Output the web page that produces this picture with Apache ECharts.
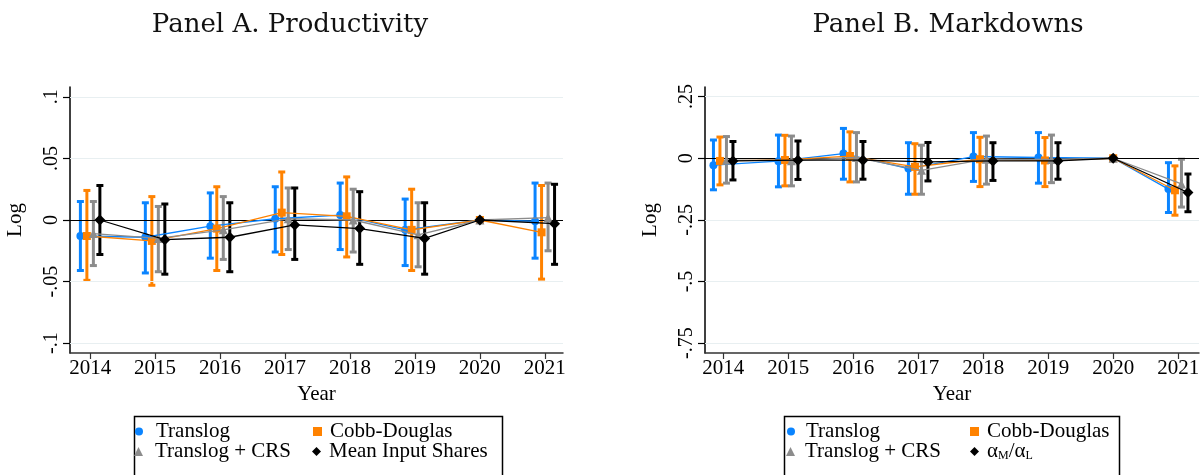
<!DOCTYPE html>
<html>
<head>
<meta charset="utf-8">
<script src="https://cdn.jsdelivr.net/npm/echarts@6/dist/echarts.min.js"></script>
<style>
  html, body { margin: 0; padding: 0; background: #fff; }
  #chart { width: 1204px; height: 475px; }
</style>
</head>
<body>
<div id="chart"></div>
<script>
// years and the base year (normalised to zero, no interval)
var years = [2014, 2015, 2016, 2017, 2018, 2019, 2020, 2021];
var baseYear = 2020;

// Panel A. Productivity  (point, lower, upper)
var prodTranslog    = [-0.013, -0.014, -0.005,  0.001,  0.004, -0.008, 0, -0.001];
var prodTranslogLo  = [-0.041, -0.043, -0.031, -0.026, -0.024, -0.037, null, -0.031];
var prodTranslogHi  = [ 0.015,  0.014,  0.022,  0.027,  0.030,  0.017, null,  0.030];
var prodCobb        = [-0.013, -0.017, -0.007,  0.006,  0.003, -0.008, 0, -0.010];
var prodCobbLo      = [-0.049, -0.053, -0.041, -0.028, -0.030, -0.041, null, -0.048];
var prodCobbHi      = [ 0.024,  0.019,  0.027,  0.039,  0.035,  0.025, null,  0.028];
var prodCrs         = [-0.011, -0.015, -0.008,  0.001,  0.000, -0.012, 0,  0.002];
var prodCrsLo       = [-0.037, -0.042, -0.032, -0.024, -0.026, -0.038, null, -0.025];
var prodCrsHi       = [ 0.015,  0.011,  0.019,  0.026,  0.025,  0.014, null,  0.030];
var prodShares      = [ 0.000, -0.016, -0.014, -0.004, -0.007, -0.015, 0, -0.003];
var prodSharesLo    = [-0.028, -0.044, -0.042, -0.032, -0.036, -0.044, null, -0.036];
var prodSharesHi    = [ 0.028,  0.013,  0.014,  0.026,  0.023,  0.014, null,  0.029];

// Panel B. Markdowns
var mdTranslog      = [-0.028, -0.012,  0.019, -0.042,  0.007,  0.003, 0, -0.125];
var mdTranslogLo    = [-0.128, -0.116, -0.085, -0.146, -0.094, -0.101, null, -0.220];
var mdTranslogHi    = [ 0.074,  0.094,  0.121,  0.063,  0.104,  0.104, null, -0.018];
var mdCobb          = [-0.011, -0.007,  0.009, -0.035, -0.004, -0.009, 0, -0.130];
var mdCobbLo        = [-0.108, -0.112, -0.096, -0.146, -0.115, -0.115, null, -0.231];
var mdCobbHi        = [ 0.086,  0.093,  0.107,  0.059,  0.085,  0.084, null, -0.031];
var mdCrs           = [-0.008, -0.010,  0.003, -0.049, -0.004, -0.005, 0, -0.104];
var mdCrsLo         = [-0.101, -0.112, -0.096, -0.146, -0.105, -0.099, null, -0.198];
var mdCrsHi         = [ 0.088,  0.090,  0.104,  0.053,  0.090,  0.094, null, -0.004];
var mdRatio         = [-0.011, -0.008, -0.008, -0.015, -0.011, -0.011, 0, -0.139];
var mdRatioLo       = [-0.088, -0.086, -0.085, -0.092, -0.090, -0.085, null, -0.217];
var mdRatioHi       = [ 0.068,  0.070,  0.068,  0.064,  0.063,  0.063, null, -0.064];

// y tick labels
var prodTicks = [-0.1, -0.05, 0, 0.05, 0.1];
var mdTicks = [-0.75, -0.5, -0.25, 0, 0.25];

var FONT = 'Liberation Serif';
var names = ['Translog', 'Cobb-Douglas', 'Translog + CRS'];
var colors = ['#0a84ff', '#ff8200', '#8c8c8c', '#000000'];
var symbols = ['circle', 'rect', 'triangle', 'diamond'];
var symSizes = [8, 8, 9, 11];
var shifts = [-0.15, -0.05, 0.05, 0.15];

function xPos(i, k) {
    return years[i] === baseYear ? years[i] : years[i] + shifts[k];
}

function stataLabel(v) {
    return String(v).replace('0.', '.');
}

var chart = echarts.init(document.getElementById('chart'));

var series = [];
var panels = [
    {est: [prodTranslog, prodCobb, prodCrs, prodShares],
     lo: [prodTranslogLo, prodCobbLo, prodCrsLo, prodSharesLo],
     hi: [prodTranslogHi, prodCobbHi, prodCrsHi, prodSharesHi],
     last: 'Mean Input Shares', ticks: prodTicks},
    {est: [mdTranslog, mdCobb, mdCrs, mdRatio],
     lo: [mdTranslogLo, mdCobbLo, mdCrsLo, mdRatioLo],
     hi: [mdTranslogHi, mdCobbHi, mdCrsHi, mdRatioHi],
     last: 'αM/αL', ticks: mdTicks}
];

panels.forEach(function (p, g) {
    var serNames = names.concat([p.last]);
    // gridlines + zero line
    series.push({
        type: 'line', xAxisIndex: g, yAxisIndex: g, data: [], silent: true,
        markLine: {
            symbol: 'none', silent: true, animation: false,
            label: {show: false},
            data: p.ticks.map(function (t) {
                return {yAxis: t, lineStyle: t === 0 ?
                    {color: '#000', width: 1, type: 'solid'} :
                    {color: '#e8eff1', width: 1.2, type: 'solid'}};
            })
        }
    });
    // error bars
    for (var k = 0; k < 4; k++) {
        var bars = [];
        for (var i = 0; i < years.length; i++) {
            if (p.lo[k][i] === null) continue;
            bars.push([xPos(i, k), p.lo[k][i], p.hi[k][i]]);
        }
        series.push({
            type: 'custom', name: serNames[k], xAxisIndex: g, yAxisIndex: g,
            z: 2 + k, data: bars, itemStyle: {color: colors[k]},
            encode: {x: 0, y: [1, 2]},
            renderItem: (function (c) {
                return function (params, api) {
                    var x = api.value(0);
                    var top = api.coord([x, api.value(2)]);
                    var bot = api.coord([x, api.value(1)]);
                    var w = 3.5;
                    var st = {stroke: c, lineWidth: 3, fill: null};
                    return {type: 'group', children: [
                        {type: 'line', shape: {x1: top[0], y1: top[1], x2: bot[0], y2: bot[1]}, style: st},
                        {type: 'line', shape: {x1: top[0] - w, y1: top[1], x2: top[0] + w, y2: top[1]}, style: st},
                        {type: 'line', shape: {x1: bot[0] - w, y1: bot[1], x2: bot[0] + w, y2: bot[1]}, style: st}
                    ]};
                };
            })(colors[k])
        });
    }
    // connected estimates
    for (var k2 = 0; k2 < 4; k2++) {
        var pts = [];
        for (var j = 0; j < years.length; j++) {
            pts.push([xPos(j, k2), p.est[k2][j]]);
        }
        series.push({
            type: 'line', name: serNames[k2], xAxisIndex: g, yAxisIndex: g,
            z: 10 + k2, data: pts, symbol: symbols[k2], symbolSize: symSizes[k2],
            showSymbol: true, animation: false,
            itemStyle: {color: colors[k2]},
            lineStyle: {color: colors[k2], width: 1.3}
        });
    }
});

function xAxisFor(g, min, max) {
    return {
        type: 'value', gridIndex: g, min: min, max: max,
        name: 'Year', nameLocation: 'middle', nameGap: 30,
        nameTextStyle: {fontFamily: FONT, fontSize: 21, color: '#000'},
        axisLine: {show: true, onZero: false, lineStyle: {color: '#333', width: 1.5}},
        axisTick: {show: true, length: 6, customValues: years, lineStyle: {color: '#333', width: 1.2}},
        axisLabel: {customValues: years, fontFamily: FONT, fontSize: 21, color: '#000', margin: 5,
            formatter: function (v) { return String(v); }},
        splitLine: {show: false}
    };
}

function yAxisFor(g, min, max, ticks) {
    return {
        type: 'value', gridIndex: g, min: min, max: max,
        name: 'Log', nameLocation: 'middle', nameGap: 44, nameRotate: 90,
        nameTextStyle: {fontFamily: FONT, fontSize: 21, color: '#000'},
        axisLine: {show: true, lineStyle: {color: '#000', width: 1.5}},
        axisTick: {show: true, length: 7, customValues: ticks, lineStyle: {color: '#000', width: 1.2}},
        axisLabel: {customValues: ticks, rotate: 90, fontFamily: FONT, fontSize: 20, color: '#000',
            margin: 8, formatter: stataLabel},
        splitLine: {show: false}
    };
}

function legendItem(name, icon, left, top, gap, extra) {
    var l = {
        data: [name], left: left, top: top, icon: icon,
        itemWidth: 9, itemHeight: 9, padding: 0, selectedMode: false,
        textStyle: {fontFamily: FONT, fontSize: 21, color: '#000', padding: [0, 0, 0, gap]}
    };
    if (extra) {
        for (var key in extra) l[key] = extra[key];
    }
    return l;
}

var ratioLegend = {
    formatter: function () { return '{a|α}{s|M}{a|/α}{s|L}'; },
    textStyle: {
        fontFamily: FONT, fontSize: 21, color: '#000', padding: [0, 0, 0, 3],
        rich: {
            a: {fontFamily: FONT, fontSize: 21, color: '#000'},
            s: {fontFamily: FONT, fontSize: 12, color: '#000', verticalAlign: 'bottom', padding: [8, 0, 0, 0]}
        }
    }
};

var option = {
    backgroundColor: '#fff',
    animation: false,
    title: [
        {text: 'Panel A. Productivity', left: 285, top: 7, textAlign: 'center',
         textStyle: {fontFamily: 'DejaVu Serif', fontSize: 26, fontWeight: 'normal', color: '#111'}},
        {text: 'Panel B. Markdowns', left: 943, top: 7, textAlign: 'center',
         textStyle: {fontFamily: 'DejaVu Serif', fontSize: 26, fontWeight: 'normal', color: '#111'}}
    ],
    grid: [
        {left: 70, right: 641, top: 87, bottom: 122},
        {left: 705, right: 5, top: 87, bottom: 122}
    ],
    xAxis: [xAxisFor(0, 2013.69, 2021.28), xAxisFor(1, 2013.72, 2021.32)],
    yAxis: [yAxisFor(0, -0.108, 0.108, prodTicks), yAxisFor(1, -0.79, 0.289, mdTicks)],
    legend: [
        legendItem('Translog', 'circle', 135, 421, 8, {itemWidth: 8, itemHeight: 8}),
        legendItem('Cobb-Douglas', 'rect', 313, 421, 3),
        legendItem('Translog + CRS', 'triangle', 134, 441, 7),
        legendItem('Mean Input Shares', 'diamond', 312, 441, 3),
        legendItem('Translog', 'circle', 787, 421, 6, {itemWidth: 8, itemHeight: 8}),
        legendItem('Cobb-Douglas', 'rect', 970, 421, 3),
        legendItem('Translog + CRS', 'triangle', 786, 441, 5),
        legendItem('αM/αL', 'diamond', 970, 441, 3, ratioLegend)
    ],
    graphic: [
        {type: 'rect', left: 132, top: 414, shape: {width: 368, height: 80},
         style: {fill: null, stroke: '#000', lineWidth: 1.5}},
        {type: 'rect', left: 782, top: 414, shape: {width: 335, height: 80},
         style: {fill: null, stroke: '#000', lineWidth: 1.5}}
    ],
    series: series
};

chart.setOption(option);
</script>
</body>
</html>
